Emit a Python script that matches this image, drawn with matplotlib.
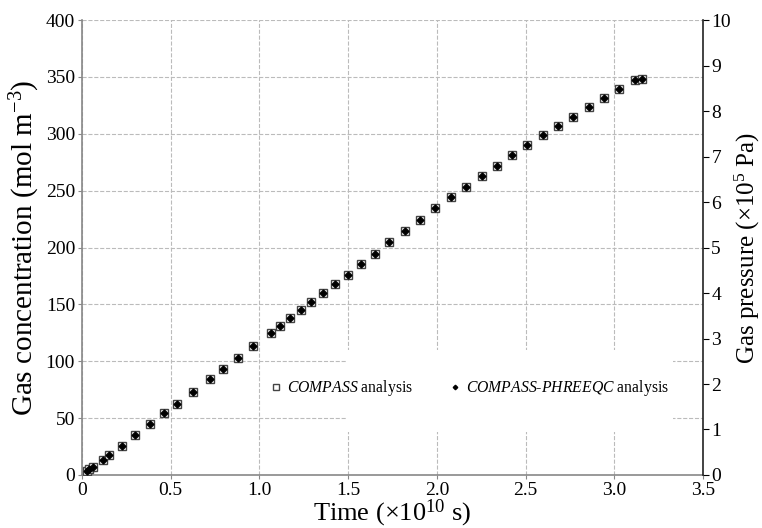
import matplotlib
matplotlib.use('Agg')
import matplotlib.pyplot as plt
from matplotlib.patches import Rectangle

plt.rcParams['font.family'] = ['Liberation Serif', 'DejaVu Serif']
plt.rcParams['mathtext.fontset'] = 'custom'
plt.rcParams['mathtext.rm'] = 'Liberation Serif'
plt.rcParams['mathtext.it'] = 'Liberation Serif:italic'

# Time (x1e10 s) and gas concentration (mol m-3)
time = [0.030, 0.041, 0.064, 0.120, 0.154, 0.225, 0.300, 0.382, 0.464, 0.537,
        0.623, 0.719, 0.795, 0.878, 0.966, 1.065, 1.118, 1.174, 1.233, 1.293,
        1.358, 1.425, 1.498, 1.571, 1.652, 1.732, 1.819, 1.907, 1.992, 2.078,
        2.165, 2.252, 2.338, 2.422, 2.510, 2.597, 2.682, 2.769, 2.856, 2.941,
        3.029, 3.114, 3.157]
conc_compass = [3.8, 5.0, 7.3, 13.5, 17.3, 25.5, 34.9, 44.6, 54.5, 62.7,
                72.7, 84.0, 93.2, 103.1, 113.4, 125.1, 131.3, 138.0, 145.1, 152.4,
                160.3, 167.9, 176.1, 185.2, 194.6, 204.6, 214.5, 224.4, 234.4, 244.1,
                253.2, 262.9, 271.9, 281.1, 289.8, 298.6, 307.1, 315.2, 323.6, 331.9,
                339.5, 347.4, 347.9]
conc_phreeqc = list(conc_compass)

xticks = [0, 0.5, 1.0, 1.5, 2.0, 2.5, 3.0, 3.5]
yticks = [0, 50, 100, 150, 200, 250, 300, 350, 400]
pticks = [0, 1, 2, 3, 4, 5, 6, 7, 8, 9, 10]

fig = plt.figure(figsize=(7.62, 5.28), dpi=100)
ax = fig.add_axes([0.1076, 0.1004, 0.815, 0.8616])

ax.plot(time, conc_compass, linestyle='none', marker='s', markersize=6,
        markerfacecolor='white', markeredgecolor='#444444', markeredgewidth=1.0,
        label=r'$\mathit{COMPASS}$ analysis', zorder=4)
ax.plot(time, conc_phreeqc, linestyle='none', marker='D', markersize=3.5,
        color='black', label=r'$\mathit{COMPASS}$-$\mathit{PHREEQC}$ analysis', zorder=5)

ax.set_xlim(0, 3.5)
ax.set_ylim(0, 400)
ax.set_xticks(xticks)
ax.set_xticklabels(['0', '0.5', '1.0', '1.5', '2.0', '2.5', '3.0', '3.5'])
ax.set_yticks(yticks)
ax.tick_params(labelsize=14, length=3, pad=2, color='#888888')

ax.grid(True, color='#bbbbbb', linestyle='--', linewidth=0.8)
ax.set_axisbelow(True)
for s in ['top', 'right']:
    ax.spines[s].set_visible(False)
for s in ['left', 'bottom']:
    ax.spines[s].set_color('#888888')
    ax.spines[s].set_linewidth(1.2)

ax.set_xlabel('Time (×10$^{10}$ s)', fontsize=19, labelpad=-1)
ax.set_ylabel('Gas concentration (mol m$^{-3}$)', fontsize=21, labelpad=3)

# right-hand pressure axis
ax2 = ax.twinx()
ax2.set_ylim(0, 10)
ax2.set_yticks(pticks)
ax2.tick_params(labelsize=14, length=4, pad=2, color='black')
for s in ['top', 'left', 'bottom']:
    ax2.spines[s].set_visible(False)
ax2.spines['right'].set_color('#222222')
ax2.spines['right'].set_linewidth(1.2)
ax2.set_ylabel('Gas pressure (×10$^{5}$ Pa)', fontsize=18, labelpad=1)

# white legend area hiding the grid
ax.add_patch(Rectangle((0.427, 0.095), 0.525, 0.18, transform=ax.transAxes,
                       facecolor='white', edgecolor='none', zorder=1))
ax.legend(loc='center left', bbox_to_anchor=(0.274, 0.191), ncol=2,
          frameon=False, fontsize=11.3, handletextpad=0.1, columnspacing=2.1,
          handlelength=1.2, markerscale=0.65)

fig.savefig('out.png', dpi=100)
